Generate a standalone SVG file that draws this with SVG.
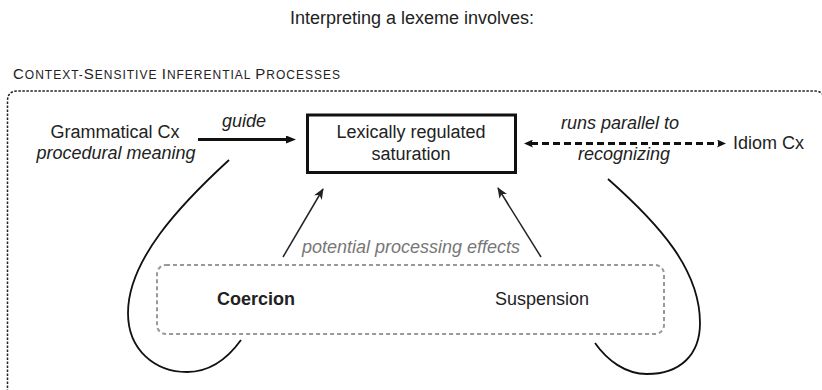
<svg xmlns="http://www.w3.org/2000/svg" width="822" height="390" viewBox="0 0 822 390">
<style>
text{font-family:"Liberation Sans",Arial,sans-serif;fill:#222;font-size:18px}
.it{font-style:italic}
.mid{text-anchor:middle}
.gray{fill:#777}
.big{font-size:15px}
.sm{font-size:12px}
.curve{fill:none;stroke:#111;stroke-width:1.8}
.thin{fill:none;stroke:#222;stroke-width:1.5}
</style>
<defs>
<marker id="tri" viewBox="0 0 10 8" refX="2" refY="4" markerWidth="10" markerHeight="8" markerUnits="userSpaceOnUse" orient="auto">
<path d="M0,0 L10,4 L0,8 z" fill="#111"/>
</marker>
<marker id="stealth" viewBox="0 0 11 9" refX="10" refY="4.5" markerWidth="11" markerHeight="9" markerUnits="userSpaceOnUse" orient="auto">
<path d="M0,0 L11,4.5 L0,9 L3,4.5 z" fill="#222"/>
</marker>
<marker id="small" viewBox="0 0 9 8" refX="2" refY="4" markerWidth="9" markerHeight="8" markerUnits="userSpaceOnUse" orient="auto-start-reverse">
<path d="M0,0 L9,4 L0,8 L2,4 z" fill="#111"/>
</marker>
</defs>

<g id="title"><text x="412" y="24" class="mid">Interpreting a lexeme involves:</text></g>

<g id="frame">
<path d="M7.5 392 L7.5 101 Q7.5 91 17.5 91 L815 91 Q824 91 824 100 L824 392" fill="none" stroke="#222" stroke-width="1.5" stroke-dasharray="2.5 1.5"/>
<text x="13" y="79" textLength="327" lengthAdjust="spacing"><tspan class="big">C</tspan><tspan class="sm">ONTEXT-</tspan><tspan class="big">S</tspan><tspan class="sm">ENSITIVE </tspan><tspan class="big">I</tspan><tspan class="sm">NFERENTIAL </tspan><tspan class="big">P</tspan><tspan class="sm">ROCESSES</tspan></text>
</g>

<g id="grammatical">
<text x="115" y="138" class="mid">Grammatical Cx</text>
<text x="116" y="159" class="mid it">procedural meaning</text>
</g>

<g id="lexical">
<rect x="307.5" y="115" width="208" height="57.5" fill="none" stroke="#111" stroke-width="3"/>
<text x="411" y="138" class="mid">Lexically regulated</text>
<text x="411" y="160" class="mid">saturation</text>
</g>

<g id="idiom"><text x="733" y="149">Idiom Cx</text></g>

<g id="effects">
<rect x="157" y="265" width="507" height="69" rx="9" fill="none" stroke="#999" stroke-width="2" stroke-dasharray="4 3"/>
<text x="256" y="305" class="mid" font-weight="bold">Coercion</text>
<text x="542" y="305" class="mid">Suspension</text>
</g>

<g id="connectors">
<line x1="198" y1="139.5" x2="288" y2="139.5" stroke="#111" stroke-width="3" marker-end="url(#tri)"/>
<text x="244" y="127" class="mid it">guide</text>
<line x1="531" y1="143.5" x2="719" y2="143.5" stroke="#111" stroke-width="3" stroke-dasharray="7 4" marker-start="url(#small)" marker-end="url(#small)"/>
<text x="620" y="128.5" class="mid it">runs parallel to</text>
<text x="624" y="160" class="mid it">recognizing</text>
<line x1="283" y1="257" x2="323" y2="189" class="thin" marker-end="url(#stealth)"/>
<line x1="541" y1="257" x2="498" y2="188" class="thin" marker-end="url(#stealth)"/>
<text x="411" y="253" class="mid it gray">potential processing effects</text>
<path class="curve" d="M229 160 C180 205 128 260 128 313 C128 350 155 372 187 372 C210 372 228 358 241 340"/>
<path class="curve" d="M608 179 C660 225 700 270 700 323 C700 355 680 374 647 374 C625 374 607 360 595 343"/>
</g>
</svg>
